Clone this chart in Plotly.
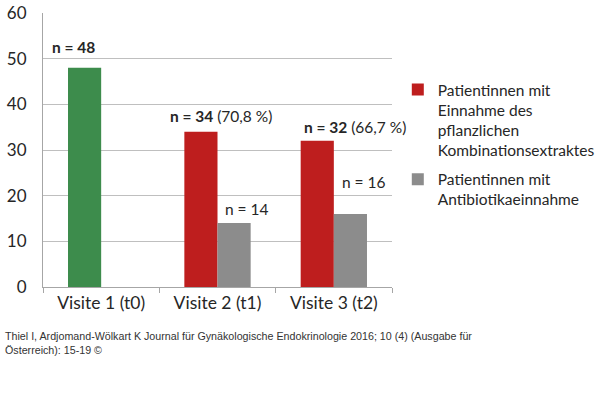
import plotly.graph_objects as go

categories = ["Visite 1 (t0)", "Visite 2 (t1)", "Visite 3 (t2)"]
baseline_values = [48]
extract_values = [34, 32]
antibiotic_values = [14, 16]
extract_name = "Patientinnen mit<br>Einnahme des<br>pflanzlichen<br>Kombinationsextraktes"
antibiotic_name = "Patientinnen mit<br>Antibiotikaeinnahme"
labels = ["<b>n = 48</b>", "<b>n = 34</b> (70,8 %)", "<b>n = 32</b> (66,7 %)", "n = 14", "n = 16"]
label_x = [-0.24, 1.03, 2.18, 1.25, 2.26]
label_y = [52.5, 37.4, 35.0, 17.0, 23.0]
y_ticks = [0, 10, 20, 30, 40, 50, 60]
footer = ("Thiel I, Ardjomand-Wölkart K Journal für Gynäkologische Endokrinologie 2016; 10 (4) (Ausgabe für<br>"
          "Österreich): 15-19 ©")

font_main = "Lato, 'Open Sans', sans-serif"
text_col = "#262626"

fig = go.Figure()
fig.add_trace(go.Bar(x=categories[:1], y=baseline_values, offsetgroup="a",
                     marker=dict(color="#3d8c4c", line=dict(width=0)), showlegend=False))
fig.add_trace(go.Bar(x=categories[1:], y=extract_values, offsetgroup="a", name=extract_name,
                     legendgroup="g1", marker=dict(color="#be1e1e", line=dict(width=0))))
fig.add_trace(go.Bar(x=categories[1:], y=antibiotic_values, offsetgroup="b", name=antibiotic_name,
                     legendgroup="g2", marker=dict(color="#8c8c8c", line=dict(width=0))))

for t, xx, yy in zip(labels, label_x, label_y):
    fig.add_annotation(x=xx, y=yy, xref="x", yref="y", text=t, showarrow=False,
                       font=dict(family=font_main, size=15.5, color=text_col))

fig.add_annotation(x=-0.1146, y=-0.205, xref="paper", yref="paper", text=footer, showarrow=False,
                   xanchor="left", yanchor="middle", align="left",
                   font=dict(family="Arial, 'Liberation Sans', sans-serif", size=10.7, color="#333333"))

fig.update_layout(
    width=600, height=397,
    margin=dict(l=43, r=208, t=13, b=110, autoexpand=False),
    paper_bgcolor="white", plot_bgcolor="white",
    barmode="group", bargap=0.43, bargroupgap=0,
    font=dict(family=font_main, size=16, color=text_col),
    legend=dict(xref="container", yref="container", x=0.663, y=0.816,
                xanchor="left", yanchor="top", valign="top",
                font=dict(family=font_main, size=15.5, color=text_col),
                tracegroupgap=6, itemwidth=30, bgcolor="rgba(0,0,0,0)"),
    showlegend=True,
)
fig.update_xaxes(type="category", categoryorder="array", categoryarray=categories,
                 range=[-0.5, 2.5], showline=True, linecolor="#a6a6a6", linewidth=1,
                 ticks="outside", tickson="boundaries", ticklen=5, tickcolor="#a6a6a6",
                 showgrid=False, automargin=False, tickfont=dict(size=17.5, color=text_col))
fig.update_yaxes(range=[0, 60], tickvals=y_ticks, showgrid=True, gridcolor="#bfbfbf", gridwidth=1,
                 showline=True, linecolor="#a6a6a6", linewidth=1, zeroline=False, automargin=False,
                 ticks="", ticklabelstandoff=12, tickfont=dict(size=17, color=text_col))

fig.write_html("out.html", config={"displayModeBar": False},
               post_script="document.body.style.margin='0';")
